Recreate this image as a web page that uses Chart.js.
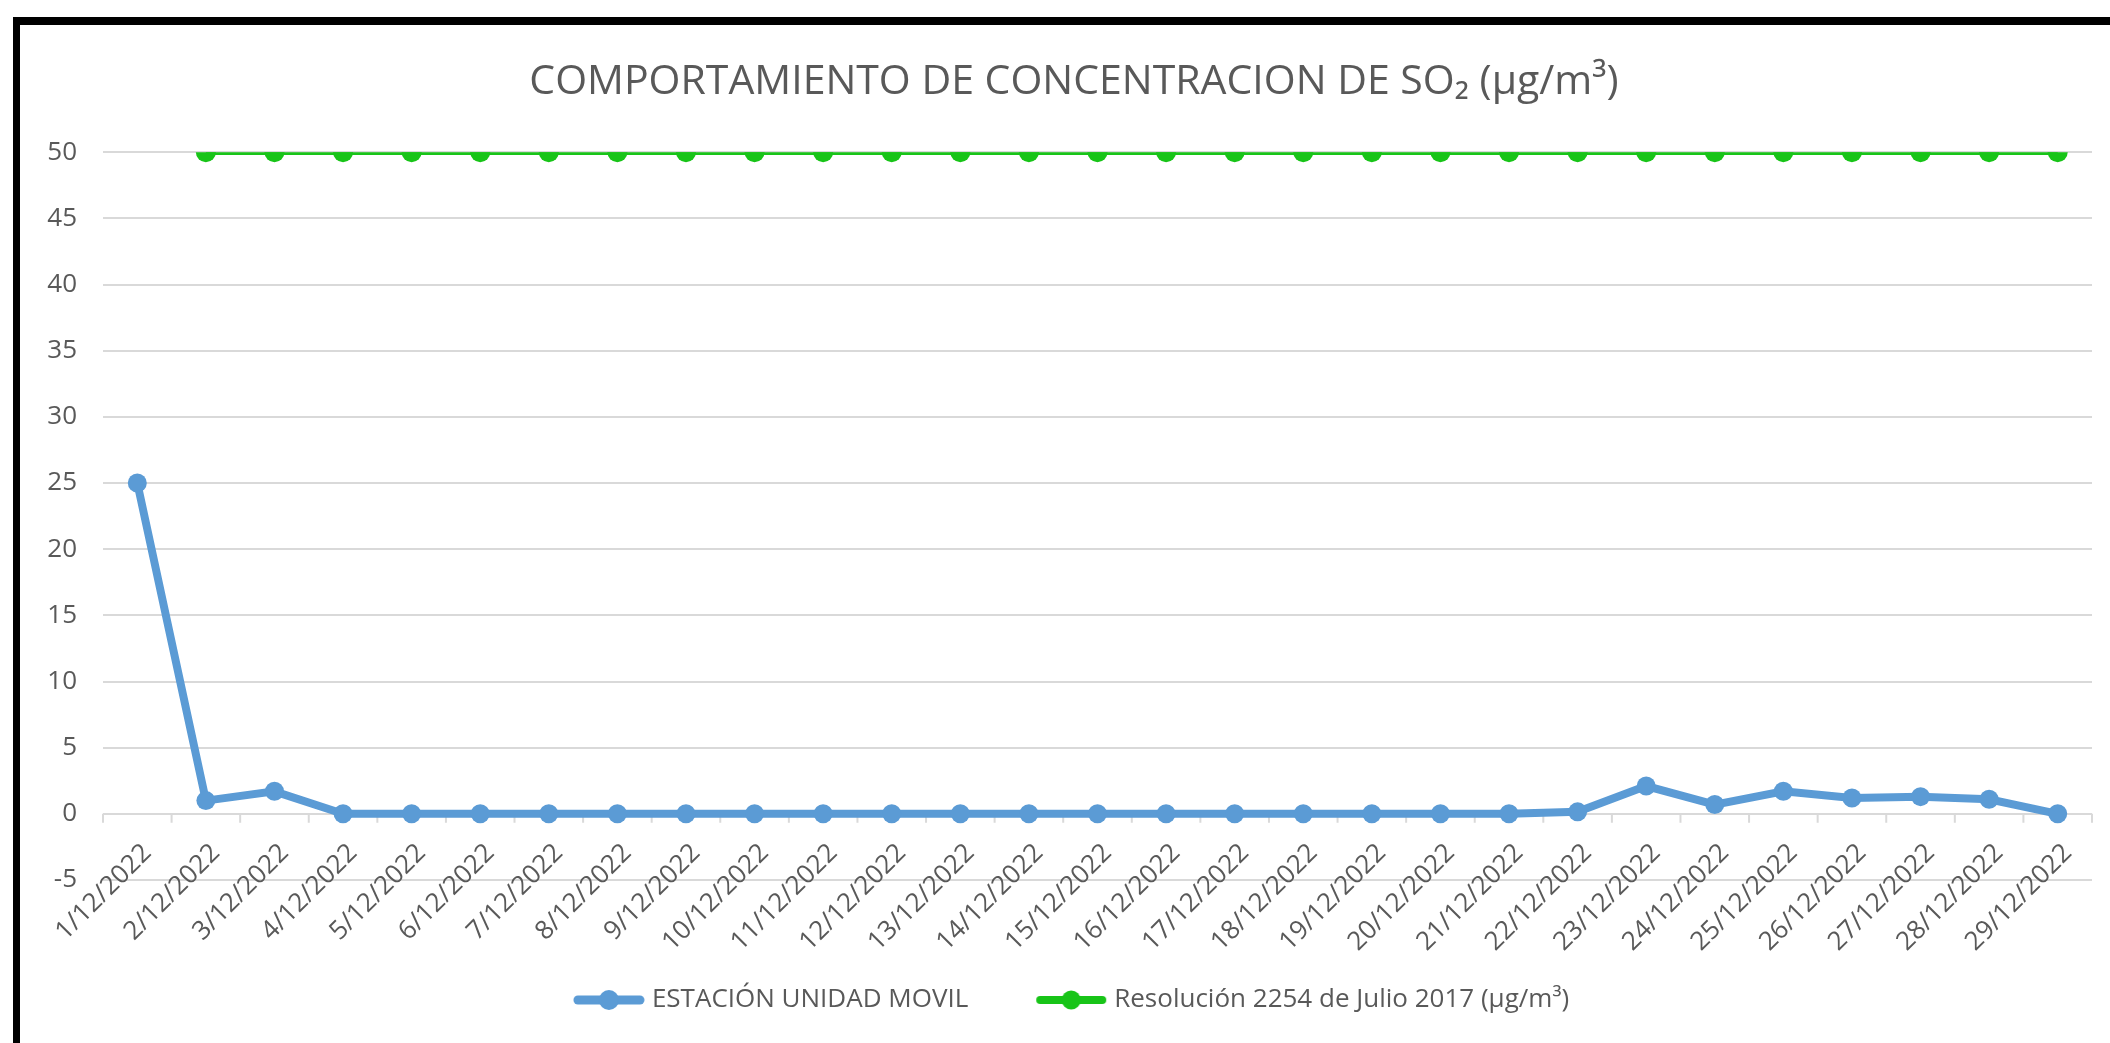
<!DOCTYPE html>
<html>
<head>
<meta charset="utf-8">
<script src="https://cdn.jsdelivr.net/npm/chart.js@4.4.1/dist/chart.umd.min.js"></script>
<style>
  html, body { margin: 0; padding: 0; background: #fff; overflow: hidden; }
  #frame {
    position: absolute; left: 13px; top: 17px;
    width: 2090px; height: 1018px;
    border-top: 8px solid #000; border-left: 7px solid #000;
    background: #fff;
  }
  canvas { display: block; }
</style>
</head>
<body>
<div id="frame"><canvas id="so2Chart" width="2090" height="1018"></canvas></div>
<script>
const titulo = 'COMPORTAMIENTO DE CONCENTRACION DE SO₂ (µg/m³)';

const fechas = [
  '1/12/2022', '2/12/2022', '3/12/2022', '4/12/2022', '5/12/2022', '6/12/2022',
  '7/12/2022', '8/12/2022', '9/12/2022', '10/12/2022', '11/12/2022', '12/12/2022',
  '13/12/2022', '14/12/2022', '15/12/2022', '16/12/2022', '17/12/2022', '18/12/2022',
  '19/12/2022', '20/12/2022', '21/12/2022', '22/12/2022', '23/12/2022', '24/12/2022',
  '25/12/2022', '26/12/2022', '27/12/2022', '28/12/2022', '29/12/2022'
];

const estacion = [
  25, 1.0, 1.7, 0, 0, 0, 0, 0, 0, 0, 0, 0, 0, 0, 0,
  0, 0, 0, 0, 0, 0, 0.15, 2.1, 0.7, 1.7, 1.2, 1.3, 1.1, 0
];

const resolucion = [
  null, 50, 50, 50, 50, 50, 50, 50, 50, 50, 50, 50, 50, 50, 50,
  50, 50, 50, 50, 50, 50, 50, 50, 50, 50, 50, 50, 50, 50
];

const gris = '#595959';
const azul = '#5B9BD5';
const verde = '#18C418';

// marcador de leyenda: linea con punto, como en Excel
function marcador(color, grosor, radio) {
  const c = document.createElement('canvas');
  c.width = 72; c.height = 22;
  const g = c.getContext('2d');
  g.strokeStyle = color;
  g.lineWidth = grosor;
  g.lineCap = 'round';
  g.beginPath(); g.moveTo(5, 11); g.lineTo(67, 11); g.stroke();
  g.fillStyle = color;
  g.beginPath(); g.arc(36, 11, radio, 0, Math.PI * 2); g.fill();
  return c;
}
const marcadores = [marcador(azul, 9, 10), marcador(verde, 8, 9.5)];

// marcas del eje horizontal sobre el valor 0
const marcasEje = {
  id: 'marcasEje',
  beforeDatasetsDraw(chart) {
    const { ctx, scales: { x, y } } = chart;
    const y0 = y.getPixelForValue(0);
    const p0 = x.getPixelForValue(0);
    const half = (x.getPixelForValue(1) - p0) / 2;
    ctx.save();
    ctx.strokeStyle = '#D9D9D9';
    ctx.lineWidth = 2;
    ctx.beginPath();
    for (let i = 0; i <= fechas.length; i++) {
      const px = p0 + (2 * i - 1) * half;
      ctx.moveTo(px, y0);
      ctx.lineTo(px, y0 + 9);
    }
    ctx.stroke();
    ctx.restore();
  }
};

// reubica titulo y leyenda como en la imagen original
const ajusteCajas = {
  id: 'ajusteCajas',
  afterLayout(chart) {
    const t = chart.titleBlock;
    if (t) { t.left += 18; t.right += 18; }
    const l = chart.legend;
    if (l) { l.left += 18; l.right += 18; l.top += 34; l.bottom += 34; }
  }
};

const ctx = document.getElementById('so2Chart').getContext('2d');

new Chart(ctx, {
  type: 'line',
  data: {
    labels: fechas,
    datasets: [{
      label: 'ESTACIÓN UNIDAD MOVIL',
      data: estacion,
      borderColor: azul,
      backgroundColor: azul,
      pointBackgroundColor: azul,
      borderWidth: 8,
      pointRadius: 9.5,
      pointBorderWidth: 0,
      tension: 0
    }, {
      label: 'Resolución 2254 de Julio 2017 (µg/m³)',
      data: resolucion,
      borderColor: verde,
      backgroundColor: verde,
      pointBackgroundColor: verde,
      borderWidth: 5.5,
      pointRadius: 10,
      pointBorderWidth: 0,
      tension: 0
    }]
  },
  options: {
    responsive: false,
    animation: false,
    events: [],
    layout: { padding: { left: 0, right: 18, top: 0, bottom: 54 } },
    plugins: {
      title: {
        display: true,
        text: titulo,
        color: gris,
        font: { family: 'Open Sans', size: 41, weight: 'normal' },
        padding: { top: 33, bottom: 45 }
      },
      legend: {
        position: 'bottom',
        labels: {
          usePointStyle: true,
          pointStyleWidth: 60,
          padding: 73,
          color: gris,
          font: { family: 'Open Sans', size: 26 },
          generateLabels: chart => chart.data.datasets.map((ds, i) => ({
            text: ds.label,
            pointStyle: marcadores[i],
            fontColor: gris,
            fillStyle: 'transparent',
            strokeStyle: 'transparent',
            lineWidth: 0,
            hidden: false,
            datasetIndex: i
          }))
        }
      },
      tooltip: { enabled: false }
    },
    scales: {
      x: {
        position: { y: 0 },
        offset: true,
        grid: { display: false, drawTicks: false },
        border: { display: false },
        ticks: {
          color: gris,
          font: { family: 'Open Sans', size: 26 },
          minRotation: 45,
          maxRotation: 45,
          autoSkip: false,
          padding: 24,
          labelOffset: 10
        },
        afterFit: s => { s.height = 0; }
      },
      y: {
        min: -5,
        max: 50,
        ticks: {
          stepSize: 5,
          padding: 26,
          color: gris,
          font: { family: 'Open Sans', size: 26 }
        },
        grid: { color: '#D9D9D9', lineWidth: 2, drawTicks: false },
        border: { display: false },
        afterFit: s => { s.width = 83; }
      }
    }
  },
  plugins: [marcasEje, ajusteCajas]
});
</script>
</body>
</html>
